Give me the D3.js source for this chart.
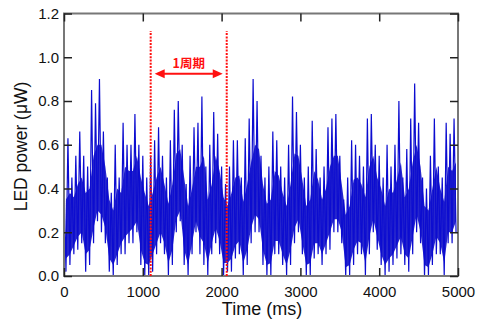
<!DOCTYPE html>
<html><head><meta charset="utf-8">
<script src="https://cdn.jsdelivr.net/npm/d3@7"></script>
<style>body{margin:0;background:#fff}svg{display:block}</style>
</head><body>
<script>
// LED power signal per 50 ms bucket (µW)
const bucketMs = 50;
// extreme spikes
const highs = [0.45,0.63,0.45,0.55,0.66,0.55,0.50,0.85,0.79,0.90,
  0.66,0.45,0.38,0.60,0.45,0.70,0.60,0.60,0.74,0.60,
  0.55,0.45,0.55,0.62,0.68,0.55,0.45,0.62,0.76,0.80,
  0.60,0.42,0.55,0.68,0.70,0.82,0.50,0.60,0.75,0.65,
  0.50,0.42,0.50,0.62,0.62,0.45,0.63,0.72,0.90,0.80,
  0.55,0.45,0.50,0.66,0.62,0.50,0.45,0.60,0.82,0.75,
  0.60,0.45,0.50,0.71,0.58,0.45,0.50,0.68,0.72,0.74,
  0.55,0.35,0.45,0.62,0.60,0.55,0.50,0.72,0.74,0.60,
  0.55,0.45,0.60,0.50,0.60,0.80,0.45,0.58,0.72,0.88,
  0.70,0.45,0.40,0.55,0.72,0.50,0.45,0.70,0.65,0.72];
const lows = [0.02,0.05,0.10,0.12,0.15,0.02,0.05,0.15,0.25,0.20,
  0.15,0.02,0.00,0.05,0.10,0.10,0.15,0.15,0.20,0.05,
  0.00,0.00,0.02,0.10,0.15,0.10,0.00,0.05,0.20,0.25,
  0.05,0.00,0.10,0.20,0.10,0.05,0.00,0.10,0.15,0.10,
  0.00,0.02,0.02,0.08,0.10,0.00,0.05,0.15,0.20,0.20,
  0.05,0.00,0.00,0.10,0.10,0.05,0.00,0.05,0.15,0.20,
  0.10,0.00,0.00,0.08,0.10,0.05,0.10,0.12,0.20,0.20,
  0.15,0.00,0.00,0.05,0.10,0.10,0.00,0.10,0.20,0.12,
  0.05,0.00,0.02,0.05,0.08,0.10,0.05,0.02,0.10,0.20,
  0.15,0.00,0.00,0.05,0.10,0.10,0.00,0.15,0.15,0.20];
// dense core band
const coreHighs = [0.35,0.38,0.36,0.42,0.45,0.38,0.40,0.55,0.60,0.60,
  0.50,0.35,0.30,0.40,0.38,0.50,0.48,0.48,0.55,0.45,
  0.38,0.32,0.38,0.45,0.50,0.42,0.33,0.42,0.56,0.58,
  0.45,0.32,0.40,0.50,0.50,0.55,0.35,0.42,0.55,0.48,
  0.36,0.32,0.38,0.45,0.46,0.34,0.42,0.52,0.60,0.58,
  0.42,0.33,0.35,0.48,0.46,0.38,0.32,0.42,0.56,0.55,
  0.44,0.32,0.35,0.48,0.44,0.35,0.40,0.50,0.55,0.55,
  0.42,0.28,0.32,0.44,0.45,0.42,0.36,0.50,0.55,0.45,
  0.40,0.32,0.40,0.38,0.44,0.52,0.36,0.40,0.52,0.60,
  0.50,0.32,0.30,0.40,0.50,0.40,0.34,0.50,0.48,0.52];
const coreLows = [0.08,0.10,0.14,0.18,0.20,0.10,0.12,0.22,0.30,0.28,
  0.22,0.08,0.05,0.10,0.15,0.18,0.20,0.22,0.25,0.12,
  0.06,0.05,0.10,0.15,0.20,0.15,0.06,0.12,0.26,0.30,
  0.12,0.05,0.15,0.25,0.18,0.15,0.06,0.15,0.22,0.16,
  0.06,0.06,0.08,0.14,0.16,0.06,0.12,0.22,0.28,0.26,
  0.12,0.05,0.06,0.16,0.16,0.10,0.05,0.12,0.22,0.26,
  0.15,0.05,0.06,0.15,0.15,0.10,0.15,0.20,0.26,0.26,
  0.20,0.04,0.05,0.12,0.16,0.15,0.06,0.18,0.26,0.18,
  0.10,0.05,0.08,0.10,0.14,0.18,0.10,0.08,0.18,0.28,
  0.20,0.05,0.04,0.10,0.18,0.15,0.06,0.20,0.20,0.25];
const xTicks = [0,1000,2000,3000,4000,5000];
const yTicks = [0.0,0.2,0.4,0.6,0.8,1.0,1.2];
const periodMarks = [1100, 2065];   // ms, red dotted lines
const periodMarkTop = 1.12;
const arrowY = 0.925;
const periodLabel = "1周期";

const W = 480, H = 323;
const m = {l:64, r:22, t:13.5, b:47};
const pw = W - m.l - m.r, ph = H - m.t - m.b;
const x = d3.scaleLinear().domain([0,5000]).range([m.l, m.l+pw]);
const y = d3.scaleLinear().domain([0,1.2]).range([m.t+ph, m.t]);

const svg = d3.select("body").append("svg").attr("width",W).attr("height",H);
svg.append("clipPath").attr("id","c").append("rect").attr("x",m.l).attr("y",m.t).attr("width",pw).attr("height",ph);
const plot = svg.append("g").attr("clip-path","url(#c)");

// core band
plot.append("path")
  .attr("d", d3.area().x((d,i)=>x(i*bucketMs+bucketMs/2)).y0((d,i)=>y(coreLows[i])).y1(d=>y(d))(coreHighs))
  .attr("fill","#0e0ec8").attr("fill-opacity",0.9);

// spikes
const pts = [];
highs.forEach((h,i)=>{ pts.push([i*bucketMs, h]); pts.push([i*bucketMs+bucketMs/2, lows[i]]); });
plot.append("path")
  .attr("d", d3.line().x(d=>x(d[0])).y(d=>y(d[1]))(pts))
  .attr("fill","none").attr("stroke","#0c0cd0").attr("stroke-width",1.2);

// frame
svg.append("rect").attr("x",m.l).attr("y",m.t).attr("width",pw).attr("height",ph)
  .attr("fill","none").attr("stroke","#777").attr("stroke-width",2);

const tl = 8;
const fontTick = "15px 'Liberation Sans', Arial, sans-serif";
const gB = svg.append("g").attr("transform",`translate(0,${m.t+ph})`)
  .call(d3.axisBottom(x).tickValues(xTicks).tickSizeInner(-tl).tickSizeOuter(0).tickPadding(10).tickFormat(d3.format("d")));
const gT = svg.append("g").attr("transform",`translate(0,${m.t})`)
  .call(d3.axisTop(x).tickValues(xTicks).tickSizeInner(-tl).tickSizeOuter(0).tickFormat(""));
const gL = svg.append("g").attr("transform",`translate(${m.l},0)`)
  .call(d3.axisLeft(y).tickValues(yTicks).tickSizeInner(-tl).tickSizeOuter(0).tickPadding(5).tickFormat(d3.format(".1f")));
const gR = svg.append("g").attr("transform",`translate(${m.l+pw},0)`)
  .call(d3.axisRight(y).tickValues(yTicks).tickSizeInner(-tl).tickSizeOuter(0).tickFormat(""));
[gB,gT,gL,gR].forEach(g=>{
  g.select(".domain").remove();
  g.selectAll(".tick line").attr("stroke","#222").attr("stroke-width",1.5);
  g.selectAll("text").style("font",fontTick).attr("fill","#111");
});

// axis titles
svg.append("text").attr("x",262).attr("y",315).attr("text-anchor","middle")
  .style("font","18px 'Liberation Sans', Arial, sans-serif").attr("fill","#111").text("Time (ms)");
svg.append("text").attr("transform","translate(27,146.5) rotate(-90)").attr("text-anchor","middle")
  .style("font","17.5px 'Liberation Sans', Arial, sans-serif").attr("fill","#111").text("LED power (μW)");

// period markers
periodMarks.forEach(t=>{
  svg.append("line").attr("x1",x(t)).attr("x2",x(t)).attr("y1",y(0)).attr("y2",y(periodMarkTop))
    .attr("stroke","#ff1010").attr("stroke-width",2).attr("stroke-dasharray","2,1.3");
});
const ax1 = x(periodMarks[0])+4, ax2 = x(periodMarks[1])-4, ay = y(arrowY);
svg.append("line").attr("x1",ax1+8).attr("x2",ax2-8).attr("y1",ay).attr("y2",ay)
  .attr("stroke","#ff1010").attr("stroke-width",2);
svg.append("path").attr("d",`M${ax1},${ay}L${ax1+10},${ay-4.5}L${ax1+10},${ay+4.5}Z`).attr("fill","#ff1010");
svg.append("path").attr("d",`M${ax2},${ay}L${ax2-10},${ay-4.5}L${ax2-10},${ay+4.5}Z`).attr("fill","#ff1010");
svg.append("text").attr("x",(ax1+ax2)/2).attr("y",ay-5.5).attr("text-anchor","middle")
  .style("font","bold 12.5px 'Noto Sans CJK JP', sans-serif").attr("fill","#ff1010").text(periodLabel);
</script>
</body></html>
